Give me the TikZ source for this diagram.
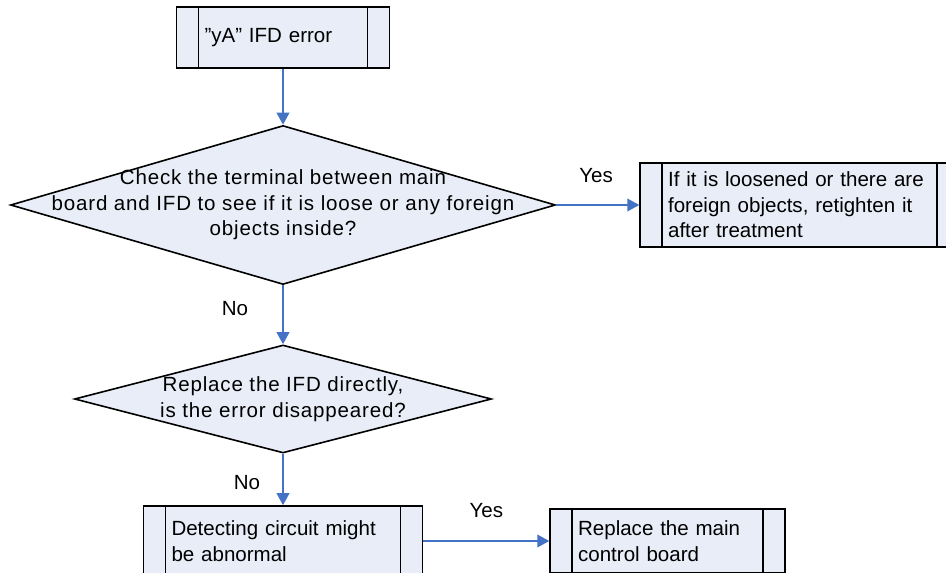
\documentclass[tikz,border=0pt]{standalone}
\usepackage{fontspec}
\setmainfont{Liberation Sans}
\usetikzlibrary{arrows.meta,positioning,shapes.geometric}
\definecolor{FlowFill}{RGB}{232,237,247}
\definecolor{FlowBlue}{RGB}{68,114,196}
\newcommand{\flowfont}{\fontsize{15.4}{19.2}\selectfont}
\newcommand{\askfont}{\flowfont\addfontfeature{LetterSpace=4}}

\begin{document}
\begin{tikzpicture}[x=0.75pt,y=-0.75pt,
    procbox/.style={draw,line width=1.2pt,fill=FlowFill,font=\flowfont,align=left,inner xsep=21pt,inner ysep=0pt,
      path picture={\draw[line width=1.2pt] ([xshift=16.5pt]path picture bounding box.north west) -- ([xshift=16.5pt]path picture bounding box.south west)
        ([xshift=-16.5pt]path picture bounding box.north east) -- ([xshift=-16.5pt]path picture bounding box.south east);}},
    decision/.style={diamond,draw,line width=1.2pt,fill=FlowFill,inner sep=0pt},
    flow/.style={draw=FlowBlue,line width=1.2pt,-{Triangle[length=9pt,width=9.5pt]}},
    lbl/.style={font=\flowfont,inner sep=0pt,anchor=base}
  ]
    \useasboundingbox (0,0) rectangle (946,573);
    \clip (0,0) rectangle (946,573);

    \node[procbox,minimum width=159.75pt,minimum height=45.75pt,text width=117.75pt] (err) at (283,37.5) {”yA” IFD error};

    \node[decision,minimum width=408.75pt,minimum height=119.25pt,label={[font=\askfont,align=center]center:{Check the terminal between main\\board and IFD to see if it is loose or any foreign\\objects inside?}}] (chk) at (283,205) {};

    \node[procbox,minimum width=239.25pt,minimum height=63pt,text width=197.25pt,right=62.25pt of chk] (fix) {If it is loosened or there are\\foreign objects, retighten it\\after treatment};

    \node[decision,minimum width=312.75pt,minimum height=81pt,label={[font=\askfont,align=center]center:{Replace the IFD directly,\\is the error disappeared?}}] (rep) at (283,399) {};

    \node[procbox,minimum width=209.25pt,minimum height=52.5pt,text width=167.25pt] (det) at (283,541) {Detecting circuit might\\be abnormal};

    \node[procbox,minimum width=176.25pt,minimum height=48pt,text width=134.25pt,right=94.5pt of det] (main) {Replace the main\\control board};

    \draw[flow] (err.south) -- (chk.north);
    \draw[flow] (chk) -- node[lbl,pos=0.48,yshift=16.5pt]{Yes} (fix);
    \draw[flow] (chk.south) -- node[lbl,pos=0.51,xshift=-36pt]{No} (rep.north);
    \draw[flow] (rep.south) -- node[lbl,pos=0.70,xshift=-27pt]{No} (det.north);
    \draw[flow] (det) -- node[lbl,midway,yshift=18pt]{Yes} (main);
  \end{tikzpicture}
\end{document}
